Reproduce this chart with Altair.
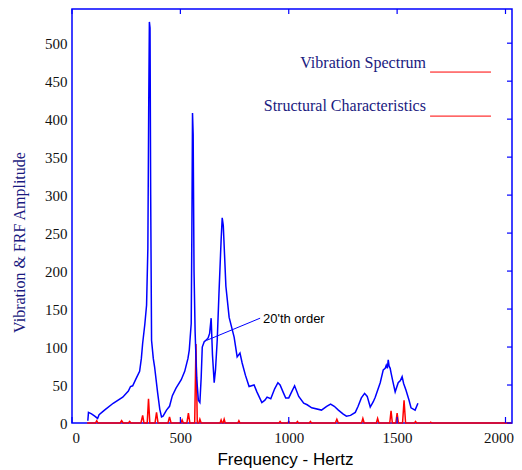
import altair as alt
import pandas as pd

# Vibration spectrum (blue)
blue_freq = [73, 76, 90, 105, 118, 125, 150, 190, 234, 260, 270, 280, 295, 312, 320, 326, 336, 344, 350, 354,
             357, 360, 363, 367, 375, 381, 395, 405, 413, 420, 436, 450, 463, 480, 504, 520, 535, 541, 550, 553,
             556, 559, 563, 568, 575, 583, 590, 596, 601, 610, 619, 628, 635, 642, 648, 656, 662, 670, 678, 688,
             693, 698, 710, 725, 748, 762, 775, 785, 800, 817, 840, 853, 876, 890, 900, 917, 935, 950, 960, 975,
             986, 1000, 1015, 1027, 1046, 1069, 1085, 1106, 1151, 1175, 1193, 1210, 1229, 1250, 1266, 1285, 1307, 1320, 1335, 1350,
             1362, 1376, 1390, 1399, 1422, 1436, 1445, 1450, 1455, 1459, 1463, 1468, 1472, 1480, 1491, 1505, 1515, 1523, 1530, 1541,
             1555, 1564, 1583, 1596]
blue_amp = [3, 14, 12, 9, 6, 11, 17, 26, 34, 42, 48, 49, 58, 68, 85, 105, 130, 155, 230, 420,
            528, 520, 300, 109, 85, 74, 40, 18, 8, 9, 17, 22, 36, 46, 57, 68, 85, 96, 131, 250,
            408, 380, 200, 120, 60, 30, 27, 60, 100, 107, 109, 112, 118, 138, 90, 53, 70, 109, 170, 241,
            270, 260, 180, 139, 113, 87, 92, 79, 63, 48, 50, 41, 27, 30, 34, 32, 45, 53, 50, 40,
            33, 33, 42, 49, 35, 26, 24, 20, 17, 22, 25, 22, 17, 12, 9, 10, 14, 22, 33, 39,
            35, 21, 28, 34, 53, 70, 72, 76, 72, 83, 75, 72, 66, 55, 41, 53, 56, 61, 52, 43,
            30, 20, 17, 26]

# Structural characteristics (red)
red_freq = [70, 108, 114, 120, 222, 229, 236, 260, 266, 272,
            318, 326, 332, 347, 353, 359, 383, 390, 397, 443,
            450, 457, 502, 508, 514, 530, 537, 544, 566, 572,
            578, 585, 590, 596, 683, 688, 693, 697, 702, 707,
            765, 770, 775, 955, 960, 965, 995, 1000, 1005, 1035,
            1040, 1045, 1095, 1100, 1105, 1215, 1222, 1229, 1336, 1342,
            1348, 1404, 1410, 1416, 1466, 1472, 1478, 1494, 1500, 1506,
            1525, 1532, 1539, 1580, 1585, 1590, 1650, 1655, 1660, 2030]
red_amp = [0, 0, 3, 0, 0, 3, 0, 0, 2, 0,
           0, 10, 0, 0, 32, 0, 0, 14, 0, 0,
           8, 0, 0, 4, 0, 0, 13, 0, 0, 104,
           0, 0, 5, 0, 0, 4, 0, 0, 5, 0,
           0, 3, 0, 0, 2, 0, 0, 2, 0, 0,
           2, 0, 0, 2, 0, 0, 5, 0, 0, 6,
           0, 0, 6, 0, 0, 16, 0, 0, 13, 0,
           0, 30, 0, 0, 2, 0, 0, 1, 0, 0]

x_ticks = [0, 500, 1000, 1500, 2000]
y_ticks = [0, 50, 100, 150, 200, 250, 300, 350, 400, 450, 500]

legend_labels = ["Vibration Spectrum", "Structural Characteristics"]
legend_text_x = [1633, 1633]
legend_text_y = [467, 411]
legend_line_x = [1652, 1652]
legend_line_x2 = [1933, 1933]
legend_line_y = [462, 404]

annot_text = ["20'th order"]
annot_x = [881]
annot_y = [137]
pointer_x = [623]
pointer_x2 = [868]
pointer_y = [109]
pointer_y2 = [138]

X_DOMAIN = [0, 2030]
Y_DOMAIN = [0, 545]
NAVY = "#1a1a80"
BLUE = "#0000ff"
RED = "#ff0000"

blue_df = pd.DataFrame({"f": blue_freq, "a": blue_amp})
red_df = pd.DataFrame({"f": red_freq, "a": red_amp})

xs = alt.Scale(domain=X_DOMAIN, nice=False, zero=False)
ys = alt.Scale(domain=Y_DOMAIN, nice=False)

x_axis = alt.Axis(values=x_ticks, format="d", title="Frequency - Hertz", ticks=False, domain=False, grid=False,
                  labelFont="Liberation Serif", labelFontSize=15, labelColor="#111111", labelPadding=7,
                  labelFlush=True,
                  labelOffset={"condition": {"test": "datum.value == 2000", "value": -7}, "value": 0},
                  titleFont="Liberation Sans", titleFontSize=17, titleFontWeight="normal", titleColor="#000000",
                  titleX=213, titleY=36, titleBaseline="middle", titleAlign="center")
y_axis = alt.Axis(values=y_ticks, format="d", title="Vibration & FRF Amplitude", ticks=False, domain=False, grid=False,
                  labelFont="Liberation Serif", labelFontSize=15, labelColor="#111111", labelPadding=5,
                  titleFont="Liberation Serif", titleFontSize=16, titleFontWeight="normal", titleColor=NAVY,
                  titleX=-53, titleY=233, titleBaseline="middle", titleAlign="center", titleAngle=-90)

red_line = alt.Chart(red_df).mark_line(color=RED, strokeWidth=1.5).encode(
    x=alt.X("f:Q", scale=xs, axis=x_axis),
    y=alt.Y("a:Q", scale=ys, axis=y_axis),
)
blue_line = alt.Chart(blue_df).mark_line(color=BLUE, strokeWidth=1.5).encode(
    x=alt.X("f:Q", scale=xs),
    y=alt.Y("a:Q", scale=ys),
)

xt = pd.DataFrame({"f": x_ticks})
yt = pd.DataFrame({"a": y_ticks})
top_ticks = alt.Chart(xt).mark_rule(color=BLUE, strokeWidth=1.2).encode(
    x=alt.X("f:Q", scale=xs), y=alt.value(0), y2=alt.value(5))
bot_ticks = alt.Chart(xt).mark_rule(color=BLUE, strokeWidth=1.2).encode(
    x=alt.X("f:Q", scale=xs), y=alt.value(414), y2=alt.value(408))
right_ticks = alt.Chart(yt).mark_rule(color=BLUE, strokeWidth=1.2).encode(
    y=alt.Y("a:Q", scale=ys), x=alt.value(440), x2=alt.value(435))

leg_df = pd.DataFrame({"label": legend_labels, "tx": legend_text_x, "ty": legend_text_y,
                       "lx": legend_line_x, "lx2": legend_line_x2, "ly": legend_line_y})
leg_text = alt.Chart(leg_df).mark_text(align="right", baseline="alphabetic", font="Liberation Serif",
                                       fontSize=16, color=NAVY).encode(
    x=alt.X("tx:Q", scale=xs), y=alt.Y("ty:Q", scale=ys), text="label:N")
leg_lines = alt.Chart(leg_df).mark_rule(color=RED, strokeWidth=1).encode(
    x=alt.X("lx:Q", scale=xs), x2="lx2:Q", y=alt.Y("ly:Q", scale=ys))

ann_df = pd.DataFrame({"t": annot_text, "x": annot_x, "y": annot_y,
                       "px": pointer_x, "px2": pointer_x2, "py": pointer_y, "py2": pointer_y2})
ann_text = alt.Chart(ann_df).mark_text(align="left", baseline="middle", font="Liberation Sans",
                                       fontSize=13, color="#000000").encode(
    x=alt.X("x:Q", scale=xs), y=alt.Y("y:Q", scale=ys), text="t:N")
ann_line = alt.Chart(ann_df).mark_rule(color=BLUE, strokeWidth=1).encode(
    x=alt.X("px:Q", scale=xs), x2="px2:Q", y=alt.Y("py:Q", scale=ys), y2="py2:Q")

chart = alt.layer(
    red_line, blue_line, top_ticks, bot_ticks, right_ticks, leg_text, leg_lines, ann_text, ann_line
).properties(
    width=440, height=414,
    autosize=alt.AutoSizeParams(type="none"),
    padding={"left": 64, "top": 1, "right": 2, "bottom": 46},
    background="white",
).configure_view(stroke=BLUE, strokeWidth=1.5)

chart.save("out.html", embed_options={"renderer": "svg", "actions": False})
